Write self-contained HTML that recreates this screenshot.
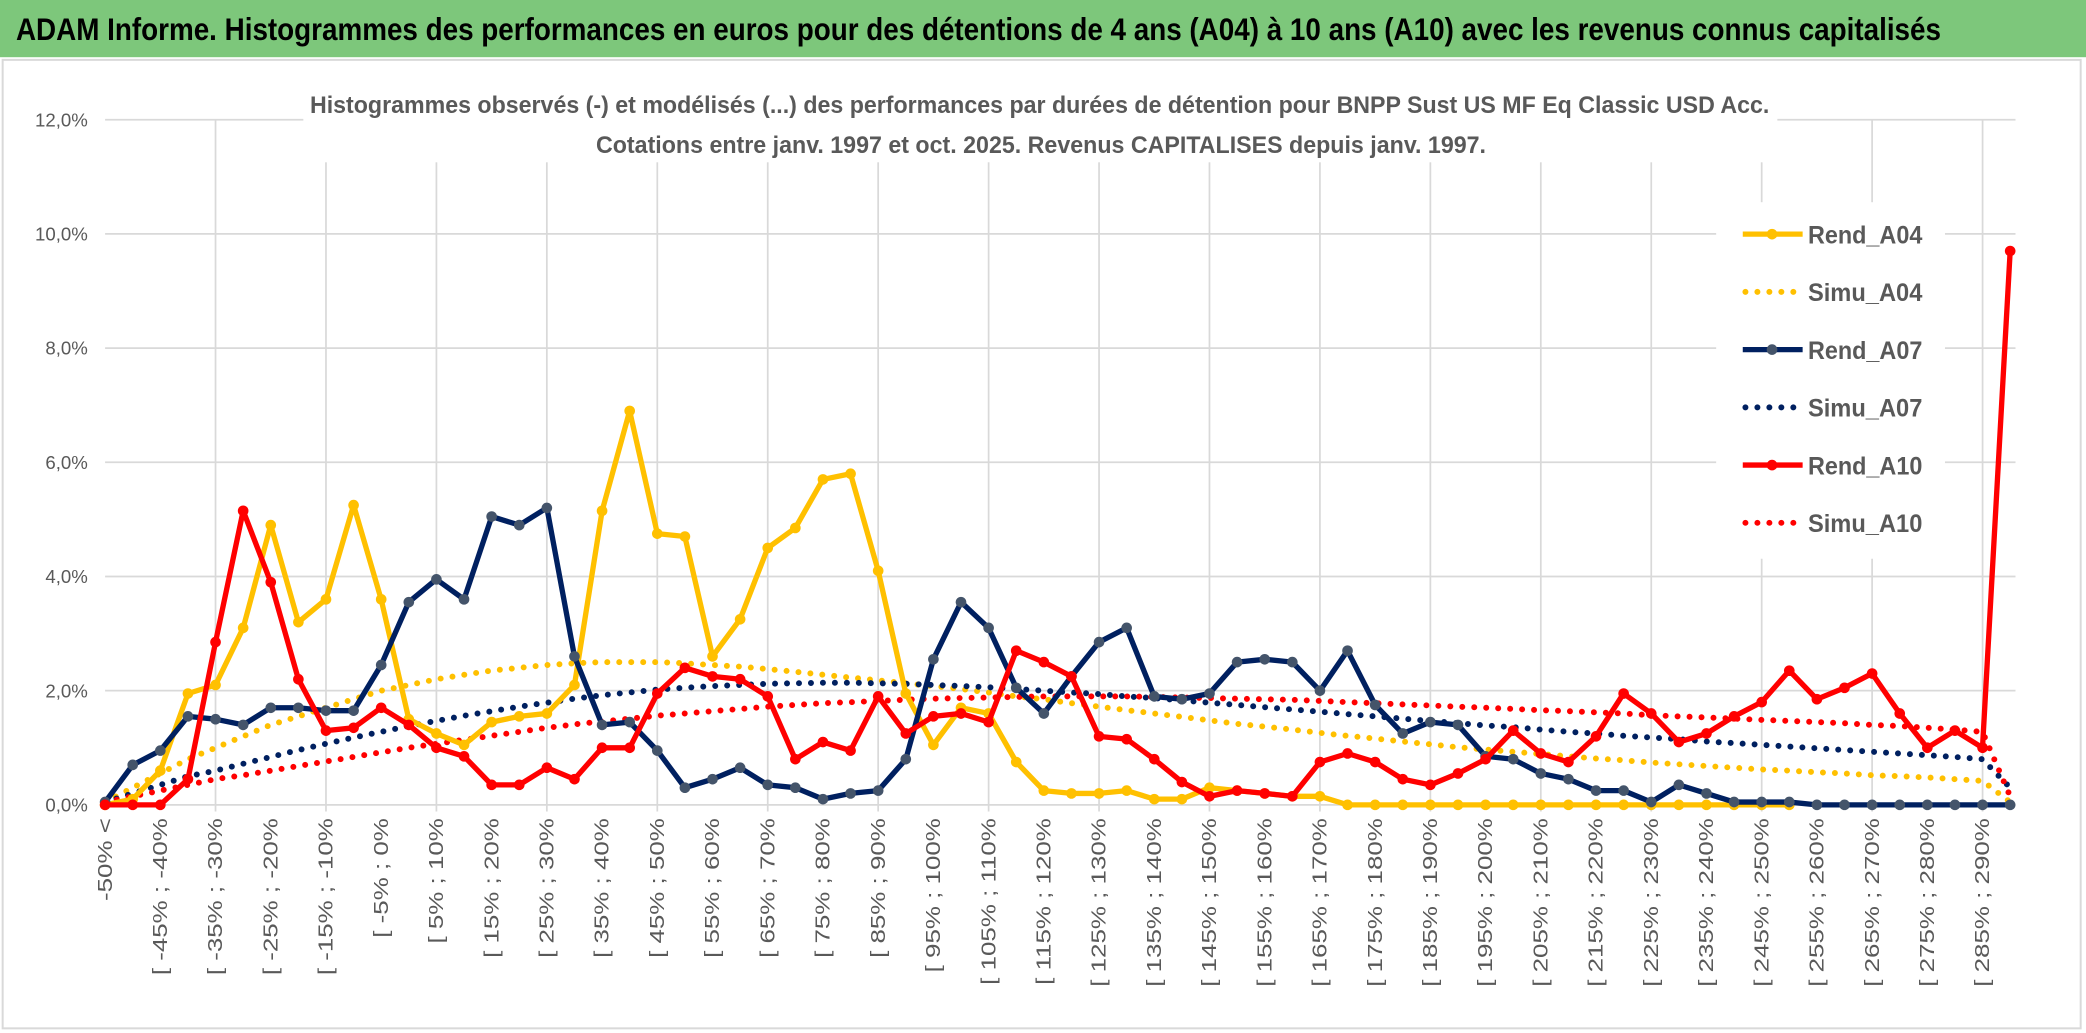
<!DOCTYPE html>
<html><head><meta charset="utf-8"><style>
html,body{margin:0;padding:0;background:#fff;}
svg{display:block;}
text{font-family:"Liberation Sans",sans-serif;}
</style></head><body>
<svg id="chart" width="2086" height="1033" viewBox="0 0 1568 776.5" preserveAspectRatio="none" xmlns="http://www.w3.org/2000/svg">
<rect x="0" y="0" width="1568" height="776.5" fill="#fff"/>
<rect x="0" y="0" width="1568" height="43" fill="#7DC77B"/>
<text x="12" y="30" font-size="24" font-weight="bold" fill="#000" textLength="1447" lengthAdjust="spacingAndGlyphs">ADAM Informe. Histogrammes des performances en euros pour des détentions de 4 ans (A04) à 10 ans (A10) avec les revenus connus capitalisés</text>
<rect x="2" y="45" width="1562" height="728" fill="none" stroke="#d9d9d9" stroke-width="1.5"/>
<g id="grid"></g>
<g id="ylabels"></g>
<g id="xlabels"></g>
<rect x="228" y="60" width="1108" height="62" fill="#fff"/>
<text x="233" y="85" font-size="18" font-weight="bold" fill="#595959" textLength="1097" lengthAdjust="spacingAndGlyphs">Histogrammes observés (-) et modélisés (...) des performances par durées de détention pour BNPP Sust US MF Eq Classic USD Acc.</text>
<text x="448" y="115" font-size="18" font-weight="bold" fill="#595959" textLength="669" lengthAdjust="spacingAndGlyphs">Cotations entre janv. 1997 et oct. 2025. Revenus CAPITALISES depuis janv. 1997.</text>
<g id="series"></g>
<g id="legend"></g>
</svg>
<script>
const categoriesStart = -50;
const categoryStep = 5;
const categoryCount = 70;
const yTicks = [0, 2, 4, 6, 8, 10, 12];
const yTickLabels = ["0,0%", "2,0%", "4,0%", "6,0%", "8,0%", "10,0%", "12,0%"];
const rendA04 = [0,0.1,0.6,1.95,2.1,3.1,4.9,3.2,3.6,5.25,3.6,1.5,1.25,1.05,1.45,1.55,1.6,2.1,5.15,6.9,4.75,4.7,2.6,3.25,4.5,4.85,5.7,5.8,4.1,1.95,1.05,1.7,1.6,0.75,0.25,0.2,0.2,0.25,0.1,0.1,0.3,0.25,0.2,0.15,0.15,0,0,0,0,0,0,0,0,0,0,0,0,0,0,0,0,0,null,null,null,null,null,null,null,null];
const simuA04 = [0.05,0.3,0.55,0.8,1.0,1.2,1.4,1.55,1.7,1.85,2.0,2.1,2.2,2.28,2.35,2.4,2.45,2.48,2.5,2.5,2.5,2.48,2.45,2.42,2.38,2.33,2.28,2.23,2.18,2.13,2.08,2.03,1.97,1.9,1.85,1.78,1.72,1.66,1.6,1.54,1.48,1.42,1.37,1.32,1.26,1.21,1.16,1.11,1.06,1.01,0.97,0.93,0.89,0.85,0.81,0.78,0.74,0.71,0.68,0.65,0.62,0.6,0.57,0.55,0.52,0.5,0.48,0.45,0.42,0.05];
const rendA07 = [0.05,0.7,0.95,1.55,1.5,1.4,1.7,1.7,1.65,1.65,2.45,3.55,3.95,3.6,5.05,4.9,5.2,2.6,1.4,1.45,0.95,0.3,0.45,0.65,0.35,0.3,0.1,0.2,0.25,0.8,2.55,3.55,3.1,2.05,1.6,2.25,2.85,3.1,1.9,1.85,1.95,2.5,2.55,2.5,2.0,2.7,1.75,1.25,1.45,1.4,0.85,0.8,0.55,0.45,0.25,0.25,0.05,0.35,0.2,0.05,0.05,0.05,0,0,0,0,0,0,0,0];
const simuA07 = [0.05,0.2,0.35,0.5,0.6,0.72,0.84,0.96,1.07,1.18,1.28,1.38,1.47,1.56,1.64,1.72,1.79,1.86,1.92,1.97,2.02,2.05,2.08,2.1,2.12,2.13,2.14,2.14,2.13,2.12,2.1,2.08,2.06,2.03,2.0,1.97,1.94,1.9,1.87,1.83,1.79,1.75,1.71,1.67,1.63,1.59,1.55,1.51,1.47,1.43,1.39,1.36,1.32,1.28,1.25,1.21,1.18,1.15,1.11,1.08,1.05,1.02,0.99,0.96,0.93,0.9,0.87,0.84,0.8,0.3];
const rendA10 = [0,0,0,0.45,2.85,5.15,3.9,2.2,1.3,1.35,1.7,1.4,1.0,0.85,0.35,0.35,0.65,0.45,1.0,1.0,1.95,2.4,2.25,2.2,1.9,0.8,1.1,0.95,1.9,1.25,1.55,1.6,1.45,2.7,2.5,2.25,1.2,1.15,0.8,0.4,0.15,0.25,0.2,0.15,0.75,0.9,0.75,0.45,0.35,0.55,0.8,1.3,0.9,0.75,1.2,1.95,1.6,1.1,1.25,1.55,1.8,2.35,1.85,2.05,2.3,1.6,1.0,1.3,1.0,9.7];
const simuA10 = [0.05,0.15,0.25,0.35,0.45,0.52,0.6,0.68,0.76,0.84,0.92,1.0,1.07,1.14,1.21,1.28,1.35,1.41,1.46,1.51,1.56,1.6,1.64,1.68,1.72,1.75,1.78,1.8,1.82,1.84,1.86,1.87,1.88,1.89,1.9,1.9,1.9,1.9,1.89,1.88,1.87,1.86,1.85,1.84,1.82,1.8,1.78,1.76,1.74,1.72,1.7,1.68,1.66,1.64,1.62,1.6,1.57,1.55,1.53,1.51,1.49,1.47,1.45,1.43,1.4,1.38,1.35,1.32,1.28,0.15];
const seriesNames = ["Rend_A04","Simu_A04","Rend_A07","Simu_A07","Rend_A10","Simu_A10"];

const NS = "http://www.w3.org/2000/svg";
const X0 = 79, X1 = 1511, Y0 = 605, Y12 = 90;
function xAt(i){ return X0 + i * (X1 - X0) / (categoryCount - 1); }
function yAt(v){ return Y0 - v * (Y0 - Y12) / 12; }
function mk(tag, attrs, parent){ const e = document.createElementNS(NS, tag); for (const k in attrs) e.setAttribute(k, attrs[k]); parent.appendChild(e); return e; }

const grid = document.getElementById('grid');
yTicks.forEach((t, k) => {
  const l = mk('line', {x1: X0, x2: X1 + 4, y1: yAt(t), y2: yAt(t), stroke: '#d9d9d9', 'stroke-width': 1.3}, grid);
  
  
  const tx = mk('text', {x: 66, y: yAt(t) + 5, 'text-anchor': 'end', 'font-size': 14, fill: '#595959'}, document.getElementById('ylabels'));
  tx.textContent = yTickLabels[k];
  
  
});
for (let i = 4; i < categoryCount; i += 4) {
  const l = mk('line', {x1: xAt(i), x2: xAt(i), y1: Y12, y2: Y0 + 5, stroke: '#d9d9d9', 'stroke-width': 1.3}, grid);
  
  
}
const xl = document.getElementById('xlabels');
for (let i = 0; i < categoryCount; i += 2) {
  let label;
  if (i === 0) label = categoriesStart + '% <';
  else { const lo = categoriesStart - categoryStep + categoryStep * i; label = '[ ' + lo + '% ; ' + (lo + categoryStep) + '%'; }
  const x = xAt(i) + 5, y = 615;
  const t = mk('text', {x: 0, y: 0, transform: 'translate(' + x + ' ' + y + ') rotate(-90) scale(1.3 1)', 'text-anchor': 'end', 'font-size': 15, fill: '#595959'}, xl);
  t.textContent = label;
  
  
}

const sg = document.getElementById('series');
function pathFor(vals){ let d = '', pen = false; vals.forEach((v, i) => { if (v === null) { pen = false; return; } d += (pen ? 'L' : 'M') + xAt(i).toFixed(1) + ' ' + yAt(v).toFixed(1) + ' '; pen = true; }); return d; }
function dotted(vals, color, name){
  const p = mk('path', {d: pathFor(vals), fill: 'none', stroke: color, 'stroke-width': 4.5, 'stroke-linecap': 'round', 'stroke-dasharray': '0 9'}, sg);
  
  
}
function solid(vals, color, mcolor, name){
  const p = mk('path', {d: pathFor(vals), fill: 'none', stroke: color, 'stroke-width': 4, 'stroke-linejoin': 'round'}, sg);
  
  
  vals.forEach((v, i) => { if (v === null) return;
    const c = mk('circle', {cx: xAt(i), cy: yAt(v), r: 4, fill: mcolor}, sg);
    
    
  });
}
dotted(simuA04, '#FFC000', 'simu-a04-line');
dotted(simuA07, '#002060', 'simu-a07-line');
dotted(simuA10, '#FF0000', 'simu-a10-line');
solid(rendA04, '#FFC000', '#FFC000', 'rend-a04-line');
solid(rendA07, '#002060', '#44546A', 'rend-a07-line');
solid(rendA10, '#FF0000', '#FF0000', 'rend-a10-line');

const lg = document.getElementById('legend');
const bg = mk('rect', {x: 1290, y: 152, width: 172, height: 268, fill: '#fff'}, lg);


const lcolors = ['#FFC000','#FFC000','#002060','#002060','#FF0000','#FF0000'];
const mcolors = ['#FFC000','#FFC000','#44546A','#44546A','#FF0000','#FF0000'];
seriesNames.forEach((n, k) => {
  const y = 176 + k * 43.4;
  const g = mk('g', {}, lg);
  
  
  if (k % 2 === 0) {
    mk('line', {x1: 1310, x2: 1355, y1: y, y2: y, stroke: lcolors[k], 'stroke-width': 4}, g);
    mk('circle', {cx: 1332, cy: y, r: 4, fill: mcolors[k]}, g);
  } else {
    mk('line', {x1: 1312, x2: 1355, y1: y, y2: y, stroke: lcolors[k], 'stroke-width': 4.5, 'stroke-linecap': 'round', 'stroke-dasharray': '0 9'}, g);
  }
  const t = mk('text', {x: 1359, y: y + 7, 'font-size': 19, 'font-weight': 'bold', fill: '#595959', textLength: 86, lengthAdjust: 'spacingAndGlyphs'}, g);
  t.textContent = n;
});
</script>
</body></html>
